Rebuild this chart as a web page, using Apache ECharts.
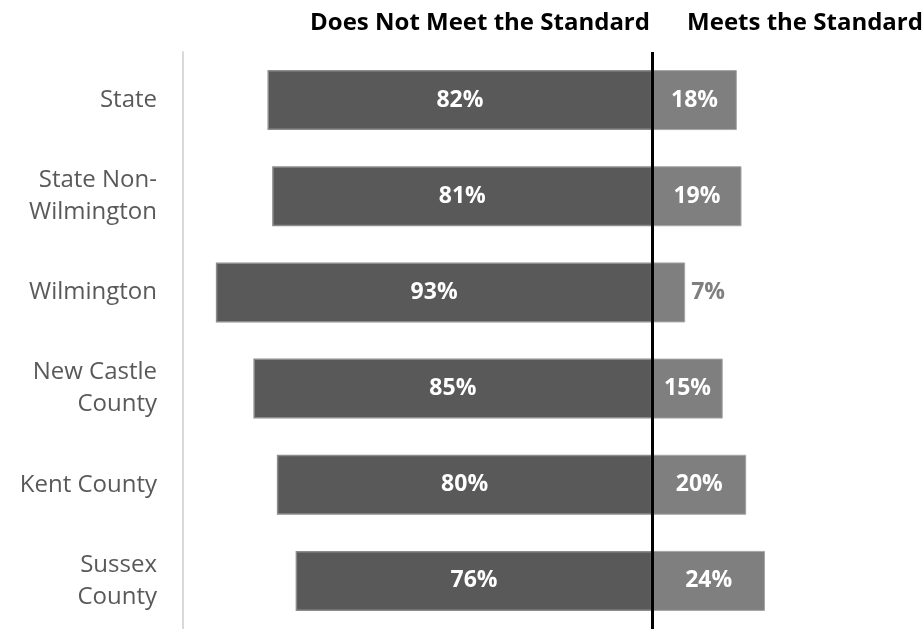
<!DOCTYPE html>
<html>
<head>
<meta charset="utf-8">
<script src="https://cdn.jsdelivr.net/npm/echarts@6/dist/echarts.min.js"></script>
<style>
  html, body { margin: 0; padding: 0; background: #fff; }
  #main { width: 922px; height: 629px; }
</style>
</head>
<body>
<div id="main"></div>
<script>
// categories, top to bottom
const categories = ['State', 'State Non-\nWilmington', 'Wilmington', 'New Castle\nCounty', 'Kent County', 'Sussex\nCounty'];
// percent not meeting / meeting the standard
const notMeet = [82, 81, 93, 85, 80, 76];
const meets = [18, 19, 7, 15, 20, 24];

const FONT = '"Open Sans", sans-serif';

let myChart = echarts.init(document.getElementById('main'));

// light bars: small values get the label outside the bar
const meetsData = meets.map(function (v) {
    if (v < 10) {
        return { value: v, label: { position: 'right', color: '#7f7f7f', distance: 6 } };
    }
    return v;
});

const option = {
    animation: false,
    title: [
        {
            text: 'Does Not Meet the Standard',
            left: 475, top: 6, textAlign: 'center',
            textStyle: { fontFamily: FONT, fontSize: 24, fontWeight: 'bold', color: '#000' }
        },
        {
            text: 'Meets the Standard',
            left: 800, top: 6, textAlign: 'center',
            textStyle: { fontFamily: FONT, fontSize: 24, fontWeight: 'bold', color: '#000' }
        }
    ],
    grid: { left: 183, right: 35, top: 52, bottom: 0, containLabel: false },
    xAxis: {
        type: 'value', min: -100, max: 50,
        show: false
    },
    yAxis: {
        type: 'category',
        data: categories,
        inverse: true,
        axisLine: { onZero: false, lineStyle: { color: '#d9d9d9', width: 2 } },
        axisTick: { show: false },
        axisLabel: {
            fontFamily: FONT, fontSize: 24, color: '#595959',
            align: 'right', lineHeight: 32, margin: 26
        }
    },
    series: [
        {
            name: 'Does Not Meet the Standard',
            type: 'bar',
            barWidth: 60,
            barGap: '-100%',
            data: notMeet.map(function (v) { return -v; }),
            itemStyle: { color: '#595959', borderColor: '#8c8c8c', borderWidth: 1.5 },
            label: {
                show: true, position: 'inside',
                formatter: function (p) { return Math.abs(p.value) + '%'; },
                fontFamily: FONT, fontSize: 23, fontWeight: 'bold', color: '#fff'
            },
            markLine: {
                silent: true, symbol: 'none',
                label: { show: false },
                lineStyle: { color: '#000', width: 3, type: 'solid' },
                data: [{ xAxis: 0 }]
            }
        },
        {
            name: 'Meets the Standard',
            type: 'bar',
            barWidth: 60,
            data: meetsData,
            itemStyle: { color: '#7f7f7f', borderColor: '#a6a6a6', borderWidth: 1 },
            label: {
                show: true, position: 'inside',
                formatter: '{c}%',
                fontFamily: FONT, fontSize: 23, fontWeight: 'bold', color: '#fff'
            }
        }
    ]
};

myChart.setOption(option);
</script>
</body>
</html>
